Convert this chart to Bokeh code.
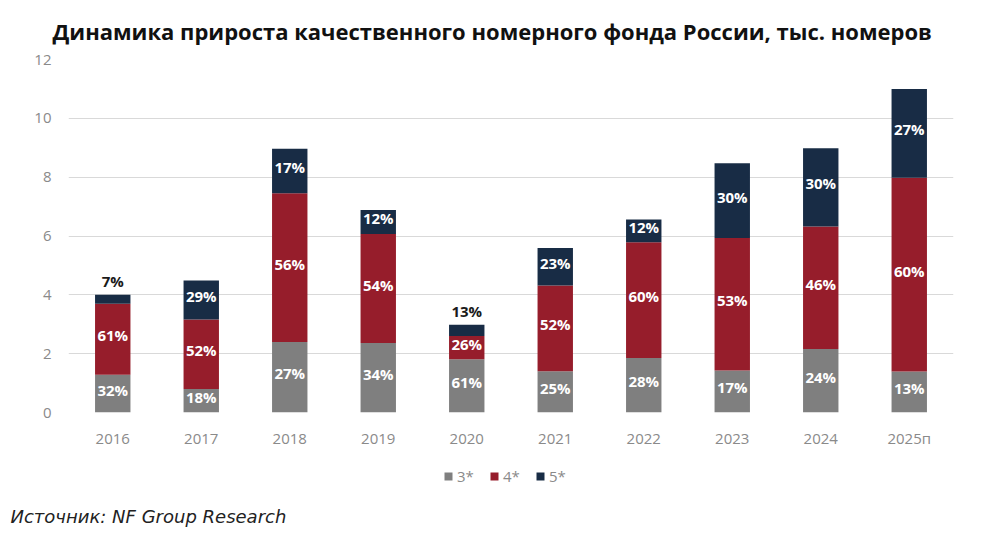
from bokeh.plotting import figure
from bokeh.models import ColumnDataSource, Legend, LegendItem, Title
from bokeh.layouts import column
from bokeh.core.properties import value
from bokeh.embed import file_html
from bokeh.resources import INLINE

years = ["2016", "2017", "2018", "2019", "2020", "2021", "2022", "2023", "2024", "2025п"]
s3 = [1.28, 0.80, 2.40, 2.36, 1.81, 1.40, 1.85, 1.43, 2.16, 1.39]
s4 = [2.42, 2.36, 5.05, 3.71, 0.79, 2.92, 3.94, 4.50, 4.16, 6.59]
s5 = [0.30, 1.33, 1.52, 0.81, 0.38, 1.27, 0.77, 2.54, 2.66, 3.02]
p3 = ["32%", "18%", "27%", "34%", "61%", "25%", "28%", "17%", "24%", "13%"]
p4 = ["61%", "52%", "56%", "54%", "26%", "52%", "60%", "53%", "46%", "60%"]
p5 = ["7%", "29%", "17%", "12%", "13%", "23%", "12%", "30%", "30%", "27%"]
series = ["3*", "4*", "5*"]
colors = ["#7f7f7f", "#961d2b", "#182c45"]
title_text = "Динамика прироста качественного номерного фонда России, тыс. номеров"
source_text = "Источник: NF Group Research"

W = 984
H1, H2 = 455, 83   # chart, legend+source strip
FL, FR = 68, 953

# --- main chart
p = figure(x_range=years, y_range=(0, 12), width=W, height=H1,
           output_backend="svg", toolbar_location=None,
           min_border_left=FL, min_border_right=W - FR, min_border_top=59, min_border_bottom=43)
p.title = Title(text=title_text, align="left", offset=-16, standoff=26, vertical_align="middle",
                text_font="Open Sans", text_font_style="bold",
                text_font_size="22px", text_color="#111111")
p.outline_line_color = None
p.background_fill_color = "white"
p.border_fill_color = "white"

src = ColumnDataSource(dict(x=years, s3=s3, s4=s4, s5=s5))
rs = p.vbar_stack(["s3", "s4", "s5"], x="x", width=0.4, color=colors, line_color=None, source=src)

p.xgrid.grid_line_color = None
p.ygrid.grid_line_color = "#d9d9d9"
p.ygrid.grid_line_width = 1
p.yaxis.ticker = [0, 2, 4, 6, 8, 10, 12]
for ax in (p.xaxis[0], p.yaxis[0]):
    ax.axis_line_color = None
    ax.major_tick_line_color = None
    ax.minor_tick_line_color = None
    ax.major_label_text_color = "#8a8a8a"
    ax.major_label_text_font = "Open Sans"
    ax.major_label_text_font_size = "15px"
p.xaxis.major_label_standoff = 9
p.yaxis.major_label_standoff = 11

lx, ly, lt, lc, lb = [], [], [], [], []
for i, yr in enumerate(years):
    base = 0.0
    for vals, pct in ((s3, p3), (s4, p4), (s5, p5)):
        v = vals[i]
        if v < 0.5:
            lx.append(yr); ly.append(base + v); lt.append(pct[i]); lc.append("#1a1a1a"); lb.append("bottom")
        else:
            lx.append(yr); ly.append(base + v / 2); lt.append(pct[i]); lc.append("#ffffff"); lb.append("middle")
        base += v
lsrc = ColumnDataSource(dict(x=lx, y=ly, t=lt, c=lc, b=lb))
p.text(x="x", y="y", text="t", source=lsrc, text_color="c", text_align="center",
       text_baseline="b", text_font=value("Open Sans"), text_font_style="bold",
       text_font_size="15px", y_offset=-4)

# --- legend + source strip (legend keys: hidden renderers on the same data)
p2 = figure(width=W, height=H2, x_range=p.x_range, y_range=(0, 1),
            x_axis_type=None, y_axis_type=None, title=None,
            output_backend="svg", toolbar_location=None,
            min_border_left=FL, min_border_right=W - FR, min_border_top=0, min_border_bottom=40)
p2.outline_line_color = None
p2.background_fill_color = "white"
p2.border_fill_color = "white"
p2.xgrid.grid_line_color = None
p2.ygrid.grid_line_color = None
keys = p2.vbar_stack(["s3", "s4", "s5"], x="x", width=0.4, color=colors, line_color=None,
                     source=src, visible=False)
legend = Legend(items=[LegendItem(label=series[k], renderers=[keys[k]]) for k in range(3)],
                orientation="horizontal", location=(443 - FL, 12),
                glyph_width=10, glyph_height=10, label_standoff=4, spacing=12,
                label_text_font="Open Sans", label_text_font_size="15px",
                label_text_color="#8a8a8a", border_line_color=None,
                background_fill_alpha=0, inactive_fill_alpha=0, margin=0, padding=0)
p2.add_layout(legend, "center")
p2.add_layout(Title(text=source_text, align="left", offset=10 - FL, vertical_align="top",
                    standoff=14, text_font="DejaVu Sans", text_font_style="italic",
                    text_font_size="18px", text_color="#222222"), "below")

layout = column(p, p2, spacing=0)
open("out.html", "w").write(file_html(layout, INLINE))
